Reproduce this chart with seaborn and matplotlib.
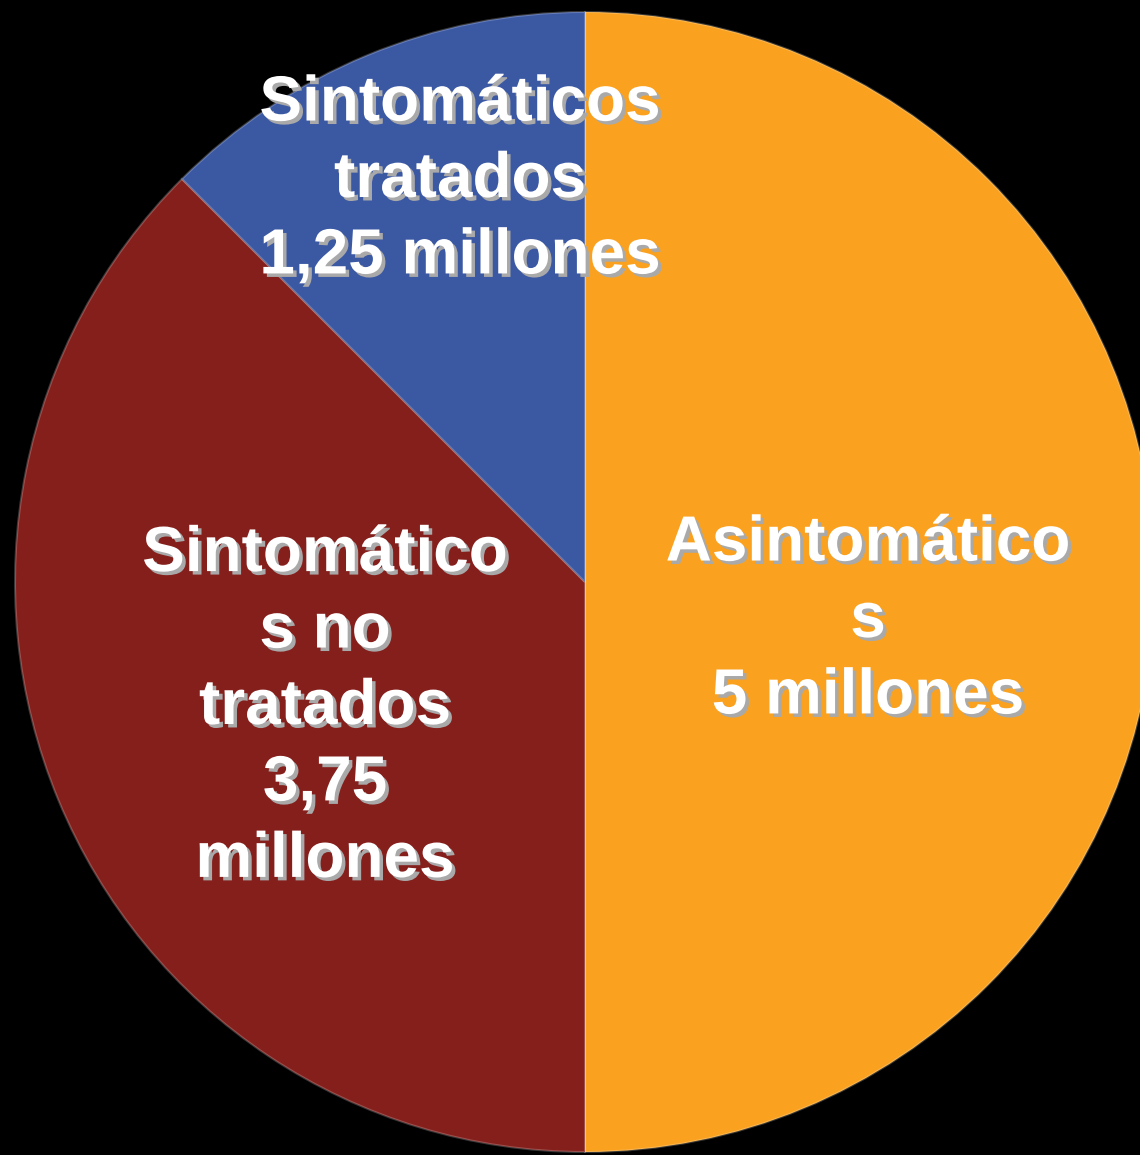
import matplotlib
matplotlib.use("Agg")
import matplotlib.pyplot as plt
import matplotlib.patheffects as pe
import seaborn as sns

sns.set_theme(style="white")
plt.rcParams['font.family'] = ['Liberation Sans', 'DejaVu Sans']

categories = ["Asintomáticos", "Sintomáticos no tratados", "Sintomáticos tratados"]
values = [5.0, 3.75, 1.25]
label_texts = ["Asintomático\ns\n5 millones",
               "Sintomático\ns no\ntratados\n3,75\nmillones",
               "Sintomáticos\ntratados\n1,25 millones"]
colors = ["#FAA21F", "#841F1C", "#3B58A3"]

W, H, DPI = 1140, 1155, 100
cx, cy, R = 585, 582, 570

fig = plt.figure(figsize=(W / DPI, H / DPI), dpi=DPI, facecolor="black")
ax = fig.add_axes([0, 0, 1, 1])
ax.set_facecolor("black")

wedges, _ = ax.pie(values, colors=colors, startangle=90, counterclock=False,
                   radius=1.0, wedgeprops=dict(linewidth=1.5, edgecolor=(1, 1, 1, 0.22)))

ax.set_xlim(-cx / R, (W - cx) / R)
ax.set_ylim(-(H - cy) / R, cy / R)
ax.set_aspect("equal")
ax.axis("off")

label_px = [(868, 620), (325, 707), (460, 180)]
for txt, (px, py) in zip(label_texts, label_px):
    ax.text((px - cx) / R, (cy - py) / R, txt, ha="center", va="center",
            fontsize=46, fontweight="bold", color="white", linespacing=1.35,
            path_effects=[pe.withSimplePatchShadow(offset=(2.5, -2.5),
                                                    shadow_rgbFace="#a9a9a9", alpha=1.0)])

fig.savefig("out.png", dpi=DPI, facecolor="black")
